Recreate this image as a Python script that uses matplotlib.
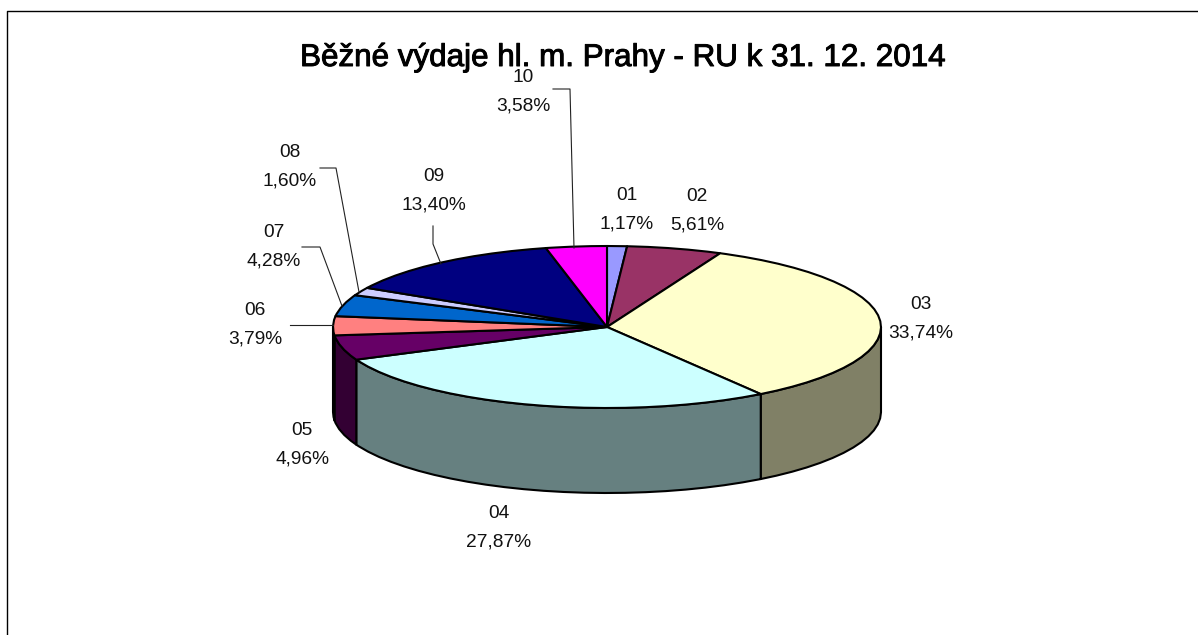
import numpy as np
import matplotlib
matplotlib.use('Agg')
import matplotlib.pyplot as plt
import matplotlib.patheffects as pe

plt.rcParams['font.family'] = ['Liberation Sans', 'DejaVu Sans']

# data
categories = ['01', '02', '03', '04', '05', '06', '07', '08', '09', '10']
shares = [1.17, 5.61, 33.74, 27.87, 4.96, 3.79, 4.28, 1.60, 13.40, 3.58]
top_colors = ['#9999FF', '#993366', '#FFFFCC', '#CCFFFF', '#660066',
              '#FF8080', '#0066CC', '#CCCCFF', '#000080', '#FF00FF']
title = 'Běžné výdaje hl. m. Prahy - RU k 31. 12. 2014'

# geometry of the pie, in pixels
cx, cy = 607, 327
rx, ry = 274, 81
depth = 85

# label centres
label_pos = [(627, 210), (697, 211), (921, 319), (499, 528), (302, 445),
             (255, 325), (274, 247), (290, 167), (434, 191), (523, 92)]

# leader lines
leaders = [
    [(553, 89), (570, 89), (574, 248)],
    [(433, 226), (433, 244), (441, 264)],
    [(320, 168), (336, 168), (359, 292)],
    [(302, 247), (320, 247), (342, 306)],
    [(290, 325), (333, 325)],
]

fig = plt.figure(figsize=(11.98, 6.35), dpi=100)
ax = fig.add_axes([0, 0, 1, 1])
ax.set_xlim(0, 1198)
ax.set_ylim(635, 0)
ax.axis('off')


def rim(t, dy=0):
    return cx + rx * np.sin(t), cy - ry * np.cos(t) + dy


def arc(t0, t1):
    # the rim in the original is a coarse polygon, not a smooth curve
    inner = np.arange(0, 2 * np.pi, 0.075)
    inner = inner[(inner > t0) & (inner < t1)]
    return np.r_[t0, inner, t1]


def darker(col):
    r, g, b = matplotlib.colors.to_rgb(col)
    return (r * 0.5, g * 0.5, b * 0.5)


# frame, only left and top
ax.plot([7, 7, 1198], [635, 11, 11], color='k', lw=1.0, zorder=1)

edges = np.cumsum([0] + shares) / sum(shares) * 2 * np.pi

# side walls first
for i in range(len(shares)):
    t0 = max(edges[i], np.pi / 2)
    t1 = min(edges[i + 1], 3 * np.pi / 2)
    if t1 <= t0:
        continue
    t = arc(t0, t1)
    x, y = rim(t)
    xb, yb = rim(t[::-1], depth)
    ax.fill(np.r_[x, xb], np.r_[y, yb], facecolor=darker(top_colors[i]),
            edgecolor='k', lw=1.5, joinstyle='round', zorder=2)

# top surface
for i in range(len(shares)):
    x, y = rim(arc(edges[i], edges[i + 1]))
    ax.fill(np.r_[cx, x], np.r_[cy, y], facecolor=top_colors[i],
            edgecolor='k', lw=1.5, joinstyle='round', zorder=3)

for pts in leaders:
    xs, ys = zip(*pts)
    ax.plot(xs, ys, color='#222222', lw=0.8, zorder=4)

ax.text(623, 58, title, ha='center', va='center', fontsize=22.6, color='k', zorder=5,
        path_effects=[pe.withStroke(linewidth=0.7, foreground='k')])

for cat, val, (lx, ly) in zip(categories, shares, label_pos):
    txt = cat + '\n' + f'{val:.2f}%'.replace('.', ',')
    ax.text(lx, ly, txt, ha='center', va='center', fontsize=13.8, color='#111111',
            linespacing=1.85, zorder=6)

fig.savefig('out.png', dpi=100)
